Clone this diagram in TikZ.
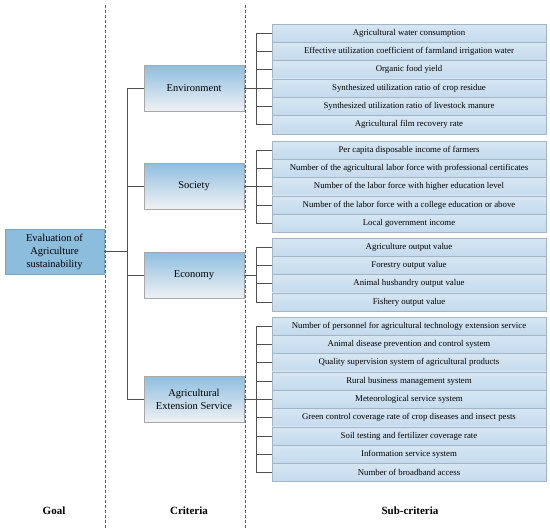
\documentclass[tikz,border=0pt]{standalone}
\usepackage{fontspec}
\setmainfont{Liberation Serif}
\usetikzlibrary{calc}
\definecolor{linegray}{HTML}{505050}
\definecolor{dashgray}{HTML}{606060}
\definecolor{goalfill}{HTML}{8CBDDD}
\definecolor{goaledge}{HTML}{7AA3BF}
\definecolor{crittop}{HTML}{8FBEE0}
\definecolor{critbot}{HTML}{F0F2F4}
\definecolor{critedge}{HTML}{A8A8A8}
\definecolor{subtop}{HTML}{D6E6F3}
\definecolor{subbot}{HTML}{C4DAED}
\definecolor{subedge}{HTML}{A3B5C4}
\tikzset{
  goalbox/.style={draw=goaledge, fill=goalfill, line width=0.8pt, minimum width=99pt, minimum height=45pt, align=center, font=\fontsize{10.5}{13}\selectfont, inner sep=1pt},
  critbox/.style={draw=critedge, top color=crittop, bottom color=critbot, line width=0.8pt, minimum width=100pt, minimum height=46pt, align=center, font=\fontsize{10.5}{13}\selectfont, inner sep=1pt},
  subbox/.style={draw=subedge, top color=subtop, bottom color=subbot, line width=0.6pt, minimum width=274pt, minimum height=18.3pt, font=\fontsize{8.8}{10}\selectfont, inner sep=1pt},
  conn/.style={draw=linegray, line width=0.9pt},
  divider/.style={draw=dashgray, line width=0.8pt, dash pattern=on 3pt off 2pt},
  layerlabel/.style={font=\fontsize{11}{12}\selectfont\bfseries}
}
\begin{document}
\begin{tikzpicture}[x=1pt,y=-1pt]
\useasboundingbox (0,0) rectangle (550,530);
\fill[white] (0,0) rectangle (550,530);

% dividers
\coordinate (d1t) at (105,5); \coordinate (d1b) at (105,530);
\coordinate (d2t) at (245,5); \coordinate (d2b) at (245,530);
\draw[divider] (d1t) -- (d1b);
\draw[divider] (d2t) -- (d2b);

% goal
\node[goalbox] (goal) at (54.5,251.5) {Evaluation of\\Agriculture\\sustainability};

% criteria
\node[critbox] (env) at (194,88.5) {Environment};
\node[critbox] (soc) at (194,186) {Society};
\node[critbox] (eco) at (194,275.5) {Economy};
\node[critbox] (aes) at (194,399.5) {Agricultural\\Extension Service};

% sub-criteria
\def\rh{18.3}
\foreach \t [count=\i] in {Agricultural water consumption,
  Effective utilization coefficient of farmland irrigation water,
  Organic food yield,
  Synthesized utilization ratio of crop residue,
  Synthesized utilization ratio of livestock manure,
  Agricultural film recovery rate}
  \node[subbox] (e\i) at (409,{24+(\i-0.5)*\rh}) {\t};
\foreach \t [count=\i] in {Per capita disposable income of farmers,
  Number of the agricultural labor force with professional certificates,
  Number of the labor force with higher education level,
  Number of the labor force with a college education or above,
  Local government income}
  \node[subbox] (s\i) at (409,{141+(\i-0.5)*\rh}) {\t};
\foreach \t [count=\i] in {Agriculture output value,
  Forestry output value,
  Animal husbandry output value,
  Fishery output value}
  \node[subbox] (c\i) at (409,{238+(\i-0.5)*\rh}) {\t};
\foreach \t [count=\i] in {Number of personnel for agricultural technology extension service,
  Animal disease prevention and control system,
  Quality supervision system of agricultural products,
  Rural business management system,
  Meteorological service system,
  Green control coverage rate of crop diseases and insect pests,
  Soil testing and fertilizer coverage rate,
  Information service system,
  Number of broadband access}
  \node[subbox] (a\i) at (409,{317+(\i-0.5)*\rh}) {\t};

% left trunk
\coordinate (lt) at (127,0);
\draw[conn] (goal.east) -- (goal.east -| lt);
\draw[conn] (env.west -| lt) -- (aes.west -| lt);
\foreach \n in {env,soc,eco,aes}
  \draw[conn] (\n.west) -- (\n.west -| lt);

% right trunks
\coordinate (rt) at (256,0);
\draw[conn] (env.east) -- (env.east -| rt);
\draw[conn] (e1.west -| rt) -- (e6.west -| rt);
\foreach \i in {1,...,6} \draw[conn] (e\i.west) -- (e\i.west -| rt);
\draw[conn] (soc.east) -- (soc.east -| rt);
\draw[conn] (s1.west -| rt) -- (s5.west -| rt);
\foreach \i in {1,...,5} \draw[conn] (s\i.west) -- (s\i.west -| rt);
\draw[conn] (eco.east) -- (eco.east -| rt);
\draw[conn] (c1.west -| rt) -- (c4.west -| rt);
\foreach \i in {1,...,4} \draw[conn] (c\i.west) -- (c\i.west -| rt);
\draw[conn] (aes.east) -- (aes.east -| rt);
\draw[conn] (a1.west -| rt) -- (a9.west -| rt);
\foreach \i in {1,...,9} \draw[conn] (a\i.west) -- (a\i.west -| rt);

% layer labels
\node[layerlabel] (lgoal) at (54,511) {Goal};
\node[layerlabel] (lcrit) at (189,511) {Criteria};
\node[layerlabel] (lsub) at (410,511) {Sub-criteria};
\end{tikzpicture}
\end{document}
